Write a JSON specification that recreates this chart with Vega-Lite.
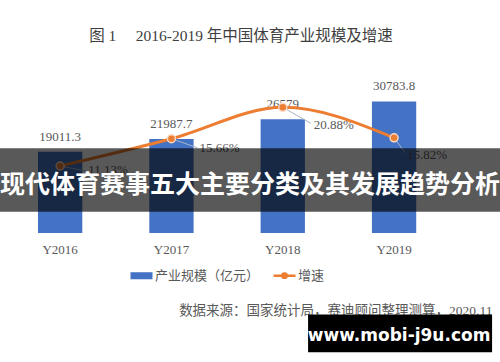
{
  "$schema": "https://vega.github.io/schema/vega-lite/v6.json",
  "width": 500,
  "height": 163,
  "autosize": "none",
  "padding": {"left": 0, "top": 70, "right": 0, "bottom": 129},
  "background": "white",
  "config": {"view": {"stroke": null}},
  "title": {
    "text": "图\u00a01\u00a0\u00a0\u00a0\u00a0\u00a02016-2019\u00a0年中国体育产业规模及增速",
    "anchor": "middle", "frame": "group", "baseline": "middle", "offset": 19, "dx": -9,
    "fontSize": 15.5, "fontWeight": "normal", "font": "Liberation Serif, Noto Sans CJK SC", "color": "#404040"
  },
  "data": {"values": [
    {"year": "Y2016", "scale": 19011.3, "growth": 0.1113},
    {"year": "Y2017", "scale": 21987.7, "growth": 0.1566},
    {"year": "Y2018", "scale": 26579, "growth": 0.2088},
    {"year": "Y2019", "scale": 30783.8, "growth": 0.1582}
  ]},
  "layer": [
    {
      "encoding": {
        "x": {
          "field": "year", "type": "nominal",
          "scale": {"paddingInner": 0.602, "paddingOuter": 0.547, "align": 0.312},
          "axis": {
            "title": "数据来源：国家统计局，赛迪顾问整理测算，2020.11",
            "domain": false, "ticks": false, "grid": false, "labelAngle": 0, "labelPadding": 10,
            "labelFont": "Liberation Serif", "labelFontSize": 13, "labelColor": "#595959",
            "titleFont": "Liberation Serif, Noto Sans CJK SC", "titleFontSize": 13.5, "titleFontWeight": "normal",
            "titleColor": "#595959", "titleX": 492, "titleY": 77, "titleAlign": "right",
            "titleBaseline": "middle", "titleAnchor": "end"
          }
        },
        "y": {"field": "scale", "type": "quantitative", "scale": {"domain": [0, 38128], "nice": false, "zero": true}, "axis": null}
      },
      "layer": [
        {
          "mark": {"type": "bar"},
          "encoding": {
            "color": {
              "datum": "产业规模（亿元）", "type": "nominal",
              "scale": {"domain": ["产业规模（亿元）", "增速"], "range": ["#4472C4", "#ED7D31"]},
              "legend": {
                "title": null, "orient": "none", "legendX": 135, "legendY": 199, "direction": "horizontal",
                "symbolSize": 484, "labelFont": "Noto Sans CJK SC", "labelFontSize": 13, "labelColor": "#595959",
                "labelOffset": 7, "columnPadding": 8, "labelLimit": 300,
                "encode": {"symbols": {"update": {
                  "shape": {"signal": "datum.value === '增速' ? 'M-1,0H1M-0.2,0A0.2,0.2 0 1 1 0.2,0A0.2,0.2 0 1 1 -0.2,0Z' : 'M-1,-0.32H1V0.32H-1Z'"},
                  "fill": {"scale": "color", "field": "value"},
                  "stroke": {"scale": "color", "field": "value"},
                  "strokeWidth": {"signal": "datum.value === '增速' ? 2.5 : 0"},
                  "opacity": {"value": 1}
                }}}
              }
            }
          }
        },
        {
          "mark": {"type": "text", "baseline": "middle", "dy": -15, "font": "Liberation Serif", "fontSize": 13, "color": "#595959"},
          "encoding": {"text": {"field": "scale", "type": "nominal"}}
        },
        {
          "data": {"values": [{}]},
          "mark": {"type": "rule", "color": "#a9c9cf", "strokeWidth": 1.5, "xOffset": -55, "x2Offset": 56},
          "encoding": {
            "x": {"datum": "Y2016", "type": "nominal"},
            "x2": {"datum": "Y2019"},
            "y": {"datum": 0, "type": "quantitative"}
          }
        }
      ]
    },
    {
      "encoding": {
        "x": {"field": "year", "type": "nominal"},
        "y": {"field": "growth", "type": "quantitative", "scale": {"domain": [0, 0.2708], "nice": false, "zero": true}, "axis": null}
      },
      "layer": [
        {
          "transform": [{"filter": "datum.year === 'Y2016'"}],
          "layer": [
            {"mark": {"type": "rule", "color": "#a3b6cc", "strokeWidth": 1, "x2Offset": 26, "y2Offset": 5},
             "encoding": {"x2": {"field": "year"}, "y2": {"field": "growth"}}},
            {"mark": {"type": "text", "align": "left", "baseline": "middle", "dx": 28, "dy": 4, "font": "Liberation Serif", "fontSize": 13, "color": "#595959"},
             "encoding": {"text": {"field": "growth", "type": "quantitative", "format": ".2%"}}}
          ]
        },
        {
          "transform": [{"filter": "datum.year === 'Y2017'"}],
          "layer": [
            {"mark": {"type": "rule", "color": "#a3b6cc", "strokeWidth": 1, "x2Offset": 26, "y2Offset": 9},
             "encoding": {"x2": {"field": "year"}, "y2": {"field": "growth"}}},
            {"mark": {"type": "text", "align": "left", "baseline": "middle", "dx": 28, "dy": 9, "font": "Liberation Serif", "fontSize": 13, "color": "#595959"},
             "encoding": {"text": {"field": "growth", "type": "quantitative", "format": ".2%"}}}
          ]
        },
        {
          "transform": [{"filter": "datum.year === 'Y2018'"}],
          "layer": [
            {"mark": {"type": "rule", "color": "#a3b6cc", "strokeWidth": 1, "x2Offset": 28, "y2Offset": 16},
             "encoding": {"x2": {"field": "year"}, "y2": {"field": "growth"}}},
            {"mark": {"type": "text", "align": "left", "baseline": "middle", "dx": 31, "dy": 18, "font": "Liberation Serif", "fontSize": 13, "color": "#595959"},
             "encoding": {"text": {"field": "growth", "type": "quantitative", "format": ".2%"}}}
          ]
        },
        {
          "transform": [{"filter": "datum.year === 'Y2019'"}],
          "layer": [
            {"mark": {"type": "rule", "color": "#a3b6cc", "strokeWidth": 1, "x2Offset": 11, "y2Offset": 15},
             "encoding": {"x2": {"field": "year"}, "y2": {"field": "growth"}}},
            {"mark": {"type": "text", "align": "left", "baseline": "middle", "dx": 13, "dy": 17, "font": "Liberation Serif", "fontSize": 13, "color": "#595959"},
             "encoding": {"text": {"field": "growth", "type": "quantitative", "format": ".2%"}}}
          ]
        },
        {
          "mark": {"type": "line", "interpolate": "monotone", "strokeWidth": 3},
          "encoding": {"color": {"datum": "增速", "type": "nominal"}}
        },
        {
          "mark": {"type": "point", "shape": "circle", "filled": true, "size": 64, "fill": "#ED7D31", "stroke": "#f7d9c4", "strokeWidth": 1.5, "opacity": 1}
        }
      ]
    },
    {
      "data": {"values": [{}]},
      "encoding": {
        "y": {"datum": 0, "type": "quantitative", "scale": {"domain": [0, 38128], "nice": false, "zero": true}, "axis": null}
      },
      "layer": [
        {
          "mark": {"type": "rect", "color": "black", "opacity": 0.65},
          "encoding": {"y": {"datum": 19846, "type": "quantitative"}, "y2": {"datum": 4973}}
        },
        {
          "mark": {"type": "text", "text": "现代体育赛事五大主要分类及其发展趋势分析", "font": "Noto Sans CJK SC", "fontSize": 25, "fontWeight": "bold", "color": "white", "align": "center", "baseline": "middle"},
          "encoding": {"y": {"datum": 11277, "type": "quantitative"}}
        },
        {
          "mark": {"type": "bar", "width": 184, "xOffset": 6, "color": "black", "opacity": 1},
          "encoding": {
            "x": {"datum": "Y2019", "type": "nominal"},
            "y": {"datum": -19075, "type": "quantitative"}, "y2": {"datum": -27878}
          }
        },
        {
          "mark": {"type": "text", "text": "www.mobi-j9u.com", "font": "DejaVu Sans", "fontSize": 17, "fontWeight": "bold", "color": "white", "align": "center", "baseline": "middle", "xOffset": 5},
          "encoding": {
            "x": {"datum": "Y2019", "type": "nominal"},
            "y": {"datum": -24142, "type": "quantitative"}
          }
        }
      ]
    }
  ],
  "resolve": {"scale": {"y": "independent"}}
}
